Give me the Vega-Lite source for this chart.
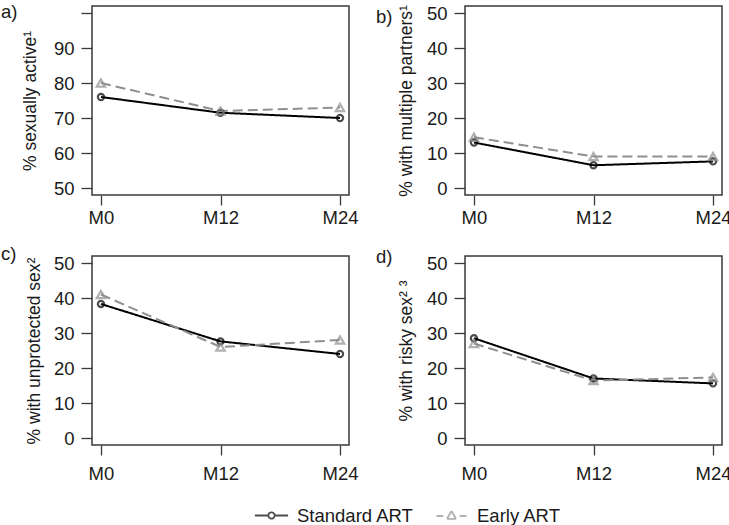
{
  "$schema": "https://vega.github.io/schema/vega-lite/v6.json",
  "background": "white",
  "padding": {"left": 0, "top": 1, "right": 5, "bottom": 2},
  "bounds": "flush",
  "spacing": {"row": 61, "column": 116},
  "columns": 2,
  "config": {
    "font": "Liberation Sans",
    "view": {"stroke": "#3a3a3a", "strokeWidth": 1.5},
    "axis": {"labelFont": "Liberation Sans", "titleFont": "Liberation Sans", "labelFontSize": 18.5, "titleFontSize": 17.5, "titleFontWeight": "normal", "labelColor": "#1a1a1a", "titleColor": "#1a1a1a", "tickColor": "#3a3a3a", "tickWidth": 1.3, "grid": false, "domain": false},
    "legend": {"labelFont": "Liberation Sans", "labelFontSize": 18.5, "labelColor": "#1a1a1a"},
    "title": {"font": "Liberation Sans", "fontSize": 18.5, "fontWeight": "normal", "color": "#1a1a1a"}
  },
  "datasets": {
    "d": [
      {"panel": "a", "visit": "M0", "series": "Standard ART", "value": 76},
      {"panel": "a", "visit": "M12", "series": "Standard ART", "value": 71.5},
      {"panel": "a", "visit": "M24", "series": "Standard ART", "value": 70},
      {"panel": "a", "visit": "M0", "series": "Early ART", "value": 80},
      {"panel": "a", "visit": "M12", "series": "Early ART", "value": 72},
      {"panel": "a", "visit": "M24", "series": "Early ART", "value": 73},
      {"panel": "b", "visit": "M0", "series": "Standard ART", "value": 13},
      {"panel": "b", "visit": "M12", "series": "Standard ART", "value": 6.5},
      {"panel": "b", "visit": "M24", "series": "Standard ART", "value": 7.6},
      {"panel": "b", "visit": "M0", "series": "Early ART", "value": 14.5},
      {"panel": "b", "visit": "M12", "series": "Early ART", "value": 9},
      {"panel": "b", "visit": "M24", "series": "Early ART", "value": 9},
      {"panel": "c", "visit": "M0", "series": "Standard ART", "value": 38.3},
      {"panel": "c", "visit": "M12", "series": "Standard ART", "value": 27.6},
      {"panel": "c", "visit": "M24", "series": "Standard ART", "value": 24},
      {"panel": "c", "visit": "M0", "series": "Early ART", "value": 41},
      {"panel": "c", "visit": "M12", "series": "Early ART", "value": 26},
      {"panel": "c", "visit": "M24", "series": "Early ART", "value": 28},
      {"panel": "d", "visit": "M0", "series": "Standard ART", "value": 28.5},
      {"panel": "d", "visit": "M12", "series": "Standard ART", "value": 17},
      {"panel": "d", "visit": "M24", "series": "Standard ART", "value": 15.6},
      {"panel": "d", "visit": "M0", "series": "Early ART", "value": 27},
      {"panel": "d", "visit": "M12", "series": "Early ART", "value": 16.4},
      {"panel": "d", "visit": "M24", "series": "Early ART", "value": 17.3}
    ]
  },
  "concat": [
    {
      "width": 257, "height": 189,
      "title": {"text": "a)", "anchor": "start", "frame": "group", "orient": "top", "offset": 0, "baseline": "top", "dx": -91, "dy": 15},
      "data": {"name": "d"},
      "transform": [{"filter": "datum.panel == 'a'"}],
      "encoding": {
        "x": {"field": "visit", "type": "ordinal", "scale": {"type": "point", "padding": 0.075, "domain": ["M0", "M12", "M24"]}, "axis": {"title": null, "labelAngle": 0, "tickSize": 10, "labelPadding": 3, "labelFlush": false}},
        "y": {"field": "value", "type": "quantitative", "scale": {"domain": [48, 102], "nice": false, "zero": false}, "axis": {"title": "% sexually active¹", "values": [50, 60, 70, 80, 90, 100], "labelExpr": "datum.value == 100 ? '' : datum.label", "tickSize": 11, "labelPadding": 7, "titlePadding": 14}},
        "color": {"field": "series", "type": "nominal", "scale": {"domain": ["Standard ART", "Early ART"], "range": ["#000000", "#8f8f8f"]}, "legend": {"orient": "none", "legendX": 162, "legendY": 492, "direction": "horizontal", "title": null, "symbolSize": 1100, "symbolStrokeWidth": 1.8, "symbolFillColor": "transparent", "columnPadding": 18, "labelOffset": 8}}
      },
      "layer": [
        {"mark": {"type": "line", "strokeWidth": 2}, "encoding": {"strokeDash": {"field": "series", "type": "nominal", "scale": {"domain": ["Standard ART", "Early ART"], "range": [[1, 0], [10, 5]]}}}},
        {"transform": [{"filter": "datum.series == 'Standard ART'"}], "mark": {"type": "point", "filled": false, "strokeWidth": 2.2, "shape": "circle", "size": 38}},
        {"transform": [{"filter": "datum.series == 'Early ART'"}], "mark": {"type": "point", "filled": false, "strokeWidth": 2.2, "shape": "triangle-up", "size": 70}},
        {"transform": [{"filter": "false"}], "mark": {"type": "point", "filled": false, "strokeWidth": 1.8}, "encoding": {"shape": {"field": "series", "type": "nominal", "scale": {"domain": ["Standard ART", "Early ART"], "range": ["M-1,0H-0.24M0.24,0H1M-0.19,0A0.19,0.19,0,1,0,0.19,0A0.19,0.19,0,1,0,-0.19,0", "M-0.9,0.03H-0.5M0.5,0.03H0.9M-0.27,0.2L0,-0.27M0,-0.27L0.27,0.2M0.27,0.2L-0.27,0.2"]}}}}
      ]
    },
    {
      "width": 257, "height": 189,
      "title": {"text": "b)", "anchor": "start", "frame": "group", "orient": "top", "offset": 0, "baseline": "top", "dx": -89, "dy": 22},
      "data": {"name": "d"},
      "transform": [{"filter": "datum.panel == 'b'"}],
      "encoding": {
        "x": {"field": "visit", "type": "ordinal", "scale": {"type": "point", "padding": 0.075, "domain": ["M0", "M12", "M24"]}, "axis": {"title": null, "labelAngle": 0, "tickSize": 10, "labelPadding": 3, "labelFlush": false}},
        "y": {"field": "value", "type": "quantitative", "scale": {"domain": [-2, 52], "nice": false, "zero": false}, "axis": {"title": "% with multiple partners¹", "values": [0, 10, 20, 30, 40, 50], "tickSize": 11, "labelPadding": 7, "titlePadding": 11}},
        "color": {"field": "series", "type": "nominal", "scale": {"domain": ["Standard ART", "Early ART"], "range": ["#000000", "#8f8f8f"]}}
      },
      "layer": [
        {"mark": {"type": "line", "strokeWidth": 2}, "encoding": {"strokeDash": {"field": "series", "type": "nominal", "scale": {"domain": ["Standard ART", "Early ART"], "range": [[1, 0], [10, 5]]}}}},
        {"transform": [{"filter": "datum.series == 'Standard ART'"}], "mark": {"type": "point", "filled": false, "strokeWidth": 2.2, "shape": "circle", "size": 38}},
        {"transform": [{"filter": "datum.series == 'Early ART'"}], "mark": {"type": "point", "filled": false, "strokeWidth": 2.2, "shape": "triangle-up", "size": 70}}
      ]
    },
    {
      "width": 257, "height": 189,
      "title": {"text": "c)", "anchor": "start", "frame": "group", "orient": "top", "offset": 0, "baseline": "top", "dx": -91, "dy": 9},
      "data": {"name": "d"},
      "transform": [{"filter": "datum.panel == 'c'"}],
      "encoding": {
        "x": {"field": "visit", "type": "ordinal", "scale": {"type": "point", "padding": 0.075, "domain": ["M0", "M12", "M24"]}, "axis": {"title": null, "labelAngle": 0, "tickSize": 10, "labelPadding": 9, "labelFlush": false}},
        "y": {"field": "value", "type": "quantitative", "scale": {"domain": [-2, 52], "nice": false, "zero": false}, "axis": {"title": "% with unprotected sex²", "values": [0, 10, 20, 30, 40, 50], "tickSize": 11, "labelPadding": 7, "titlePadding": 10}},
        "color": {"field": "series", "type": "nominal", "scale": {"domain": ["Standard ART", "Early ART"], "range": ["#000000", "#8f8f8f"]}}
      },
      "layer": [
        {"mark": {"type": "line", "strokeWidth": 2}, "encoding": {"strokeDash": {"field": "series", "type": "nominal", "scale": {"domain": ["Standard ART", "Early ART"], "range": [[1, 0], [10, 5]]}}}},
        {"transform": [{"filter": "datum.series == 'Standard ART'"}], "mark": {"type": "point", "filled": false, "strokeWidth": 2.2, "shape": "circle", "size": 38}},
        {"transform": [{"filter": "datum.series == 'Early ART'"}], "mark": {"type": "point", "filled": false, "strokeWidth": 2.2, "shape": "triangle-up", "size": 70}}
      ]
    },
    {
      "width": 257, "height": 189,
      "title": {"text": "d)", "anchor": "start", "frame": "group", "orient": "top", "offset": 0, "baseline": "top", "dx": -89, "dy": 12},
      "data": {"name": "d"},
      "transform": [{"filter": "datum.panel == 'd'"}],
      "encoding": {
        "x": {"field": "visit", "type": "ordinal", "scale": {"type": "point", "padding": 0.075, "domain": ["M0", "M12", "M24"]}, "axis": {"title": null, "labelAngle": 0, "tickSize": 10, "labelPadding": 9, "labelFlush": false}},
        "y": {"field": "value", "type": "quantitative", "scale": {"domain": [-2, 52], "nice": false, "zero": false}, "axis": {"title": "% with risky sex² ³", "values": [0, 10, 20, 30, 40, 50], "tickSize": 11, "labelPadding": 7, "titlePadding": 11}},
        "color": {"field": "series", "type": "nominal", "scale": {"domain": ["Standard ART", "Early ART"], "range": ["#000000", "#8f8f8f"]}}
      },
      "layer": [
        {"mark": {"type": "line", "strokeWidth": 2}, "encoding": {"strokeDash": {"field": "series", "type": "nominal", "scale": {"domain": ["Standard ART", "Early ART"], "range": [[1, 0], [10, 5]]}}}},
        {"transform": [{"filter": "datum.series == 'Standard ART'"}], "mark": {"type": "point", "filled": false, "strokeWidth": 2.2, "shape": "circle", "size": 38}},
        {"transform": [{"filter": "datum.series == 'Early ART'"}], "mark": {"type": "point", "filled": false, "strokeWidth": 2.2, "shape": "triangle-up", "size": 70}}
      ]
    }
  ],
  "resolve": {"scale": {"y": "independent"}}
}
